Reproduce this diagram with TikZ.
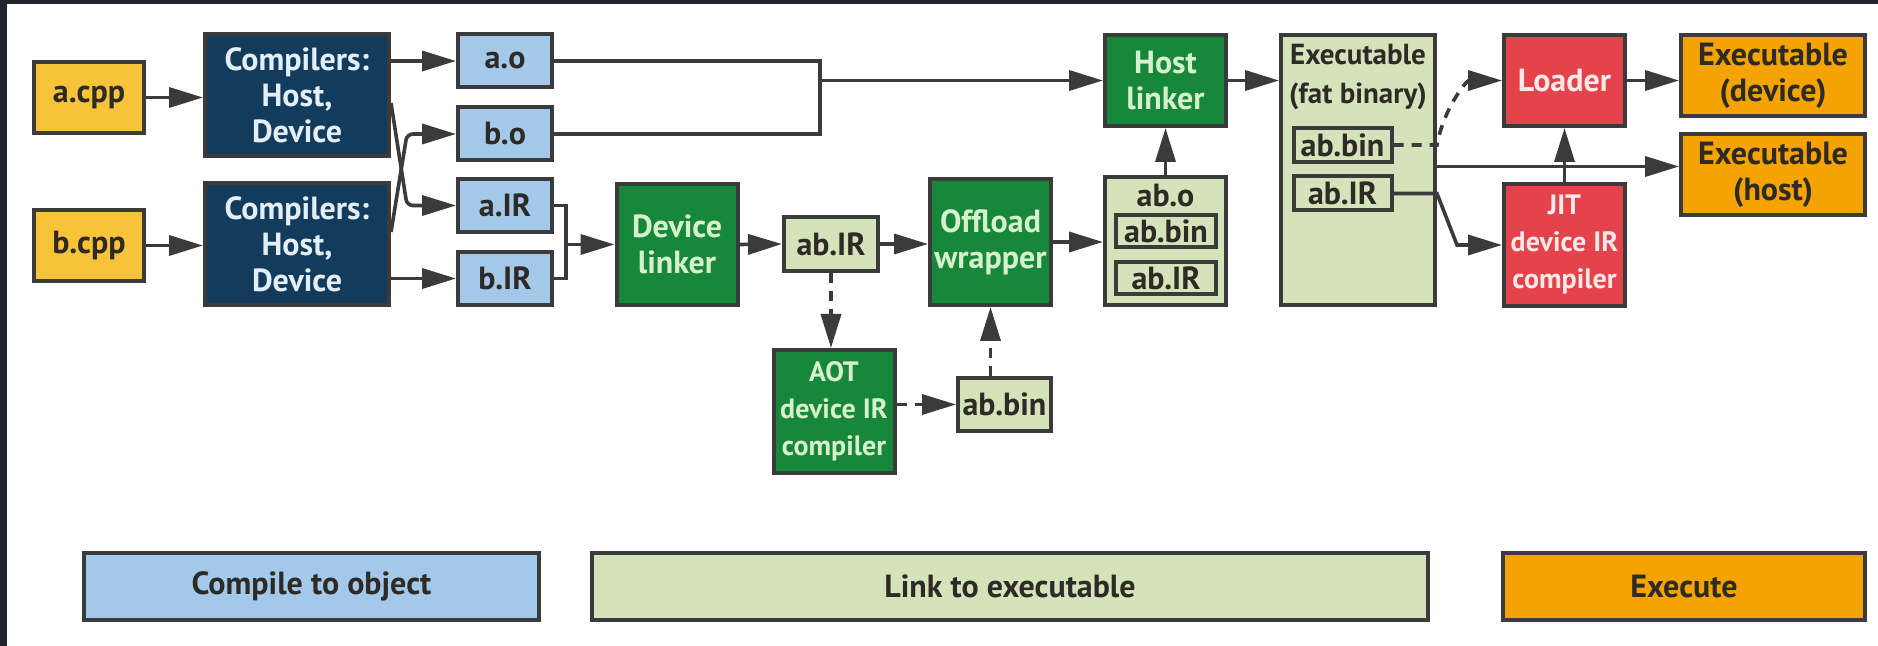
\documentclass[tikz,border=0pt]{standalone}
\usepackage{fontspec}
\setmainfont{PT Sans}
\usetikzlibrary{arrows.meta}
\definecolor{frameDark}{HTML}{24242E}
\definecolor{cppYellow}{HTML}{F7C338}
\definecolor{compNavy}{HTML}{123B5C}
\definecolor{navyText}{HTML}{E3EEF7}
\definecolor{objBlue}{HTML}{A4C8EA}
\definecolor{toolGreen}{HTML}{17883A}
\definecolor{greenText}{HTML}{D6EFCC}
\definecolor{fileGreen}{HTML}{D5E3BB}
\definecolor{runRed}{HTML}{E4434B}
\definecolor{redText}{HTML}{FCE8E8}
\definecolor{outOrange}{HTML}{F4A300}
\definecolor{lineGray}{HTML}{3B3B3B}
\definecolor{textDark}{HTML}{2E2A26}

\begin{document}
\begin{tikzpicture}[x=0.5pt,y=-0.5pt,
  box/.style={draw=lineGray,line width=2pt,inner sep=1pt,align=center,font=\bfseries\fontsize{16}{18}\selectfont},
  lbl/.style={inner sep=0pt,align=center,text=textDark,font=\bfseries\fontsize{16}{19.5}\selectfont},
  srcbox/.style={box,fill=cppYellow,text=textDark,minimum width=55pt,minimum height=35.5pt},
  compbox/.style={box,fill=compNavy,text=navyText,minimum width=92pt,minimum height=61pt},
  objbox/.style={box,fill=objBlue,text=textDark,minimum width=47pt,minimum height=26.5pt},
  toolbox/.style={box,fill=toolGreen,text=greenText,minimum width=60.5pt,minimum height=#1},
  filebox/.style={box,fill=fileGreen,text=textDark},
  runbox/.style={box,fill=runRed,text=redText,minimum width=60.5pt,minimum height=#1},
  outbox/.style={box,fill=outOrange,text=textDark,minimum width=92pt,minimum height=40.5pt},
  legbox/.style={box,text=textDark,minimum height=33.5pt,minimum width=#1},
  arr/.style={draw=lineGray,line width=1.8pt,-{Triangle[length=17pt,width=10pt]}},
  dasharr/.style={arr,dash pattern=on 5pt off 4pt}]

\fill[frameDark] (0,0) rectangle (1878,646);
\fill[white] (7,4) rectangle (1878,646);
\useasboundingbox (0,0) rectangle (1878,646);

\node[srcbox] (aCpp) at (89,97.5) {a.cpp};
\node[srcbox] (bCpp) at (89,245.5) {b.cpp};
\node[compbox] (compA) at (297,95) {Compilers:\\Host,\\Device};
\node[compbox] (compB) at (297,244) {Compilers:\\Host,\\Device};
\node[objbox] (aObj) at (505,61) {a.o};
\node[objbox] (bObj) at (505,134) {b.o};
\node[objbox] (aIR) at (505,205.5) {a.IR};
\node[objbox] (bIR) at (505,278.5) {b.IR};

\node[toolbox=60.5pt] (devLinker) at (677,244.5) {Device\\linker};
\node[filebox,minimum width=47pt,minimum height=27pt] (abIR) at (831,244) {ab.IR};
\node[toolbox=63pt] (offload) at (990.5,242) {Offload\\wrapper};
\node[filebox,minimum width=60.5pt,minimum height=64pt] (abObj) at (1165.5,241) {};
\node[lbl] (abObjTxt) at (1165.5,196) {ab.o};
\node[filebox,inner sep=0pt,minimum width=50pt,minimum height=16pt] (abObjBin) at (1166,231.5) {ab.bin};
\node[filebox,inner sep=0pt,minimum width=50pt,minimum height=16pt] (abObjIR) at (1166,278.5) {ab.IR};
\node[toolbox=45.5pt] (hostLinker) at (1165.5,80.5) {Host\\linker};

\node[filebox,minimum width=77pt,minimum height=135pt] (fatBin) at (1358,170) {};
\node[lbl,font=\bfseries\fontsize{14.5}{19.5}\selectfont] (fatTxt) at (1358,77.5) {Executable\\(fat binary)};
\node[filebox,inner sep=0pt,minimum width=49pt,minimum height=17pt] (fatBinBin) at (1342.5,145) {ab.bin};
\node[filebox,inner sep=0pt,minimum width=49pt,minimum height=17pt] (fatBinIR) at (1342.5,193.5) {ab.IR};

\node[runbox=45.5pt] (loader) at (1564.5,80.5) {Loader};
\node[runbox=61pt,font=\bfseries\fontsize{14}{18.5}\selectfont] (jit) at (1564.5,245) {JIT\\device IR\\compiler};
\node[outbox] (exeDevice) at (1773,75.5) {Executable\\(device)};
\node[outbox] (exeHost) at (1773,174.5) {Executable\\(host)};

\node[toolbox=61.5pt,font=\bfseries\fontsize{14}{18.5}\selectfont] (aot) at (834,411.5) {AOT\\device IR\\compiler};
\node[filebox,minimum width=46.5pt,minimum height=26.5pt] (abBin) at (1004.5,404.5) {ab.bin};

\node[legbox=227.5pt,fill=objBlue] (legCompile) at (311.5,586.5) {Compile to object};
\node[legbox=418pt,fill=fileGreen] (legLink) at (1010,586.5) {Link to executable};
\node[legbox=181pt,fill=outOrange] (legExec) at (1684,586.5) {Execute};

\draw[arr] (aCpp.east) -- (aCpp.east -| compA.west);
\draw[arr] (bCpp.east) -- (bCpp.east -| compB.west);
\draw[arr] (compA.east |- aObj) -- (aObj.west);
\draw[arr,rounded corners=3pt] ([yshift=-4pt]compA.east) -- ([xshift=8pt]compA.east |- aIR) -- (aIR.west);
\draw[arr,rounded corners=3pt] ([yshift=6pt]compB.east) -- ([xshift=8pt]compB.east |- bObj) -- (bObj.west);
\draw[arr] (compB.east |- bIR) -- (bIR.west);

\coordinate (objJoin) at (820,80.5);
\draw[lineGray,line width=1.8pt] (aObj.east) -| (objJoin) |- (bObj.east);
\draw[arr] (objJoin) -- (objJoin -| hostLinker.west);
\coordinate (irJoin) at (566,244.5);
\draw[lineGray,line width=1.8pt] (aIR.east) -| (irJoin) |- (bIR.east);
\draw[arr] (irJoin) -- (devLinker.west);

\draw[arr] (devLinker.east) -- (abIR.west);
\draw[arr] (abIR.east) -- (abIR.east -| offload.west);
\draw[arr] (offload.east) -- (offload.east -| abObj.west);
\draw[arr] (abObj.north) -- (hostLinker.south);
\draw[arr] (hostLinker.east) -- (hostLinker.east -| fatBin.west);

\draw[dasharr] (abIR.south) -- (abIR.south |- aot.north);
\draw[dasharr] (aot.east |- abBin) -- (abBin.west);
\draw[dasharr] (offload.south |- abBin.north) -- (offload.south);

\draw[dasharr] (fatBinBin.east) -- (fatBinBin.east -| fatBin.east) to[out=80,in=180] (loader.west);
\draw[arr] ([yshift=4pt]exeHost.west -| fatBin.east) -- ([yshift=4pt]exeHost.west);
\draw[arr] (fatBinIR.east) -- (fatBinIR.east -| fatBin.east) -- ([xshift=10pt]fatBin.east |- jit) -- (jit.west);
\draw[arr] (jit.north) -- (loader.south);
\draw[arr] (loader.east) -- (loader.east -| exeDevice.west);

\end{tikzpicture}
\end{document}
